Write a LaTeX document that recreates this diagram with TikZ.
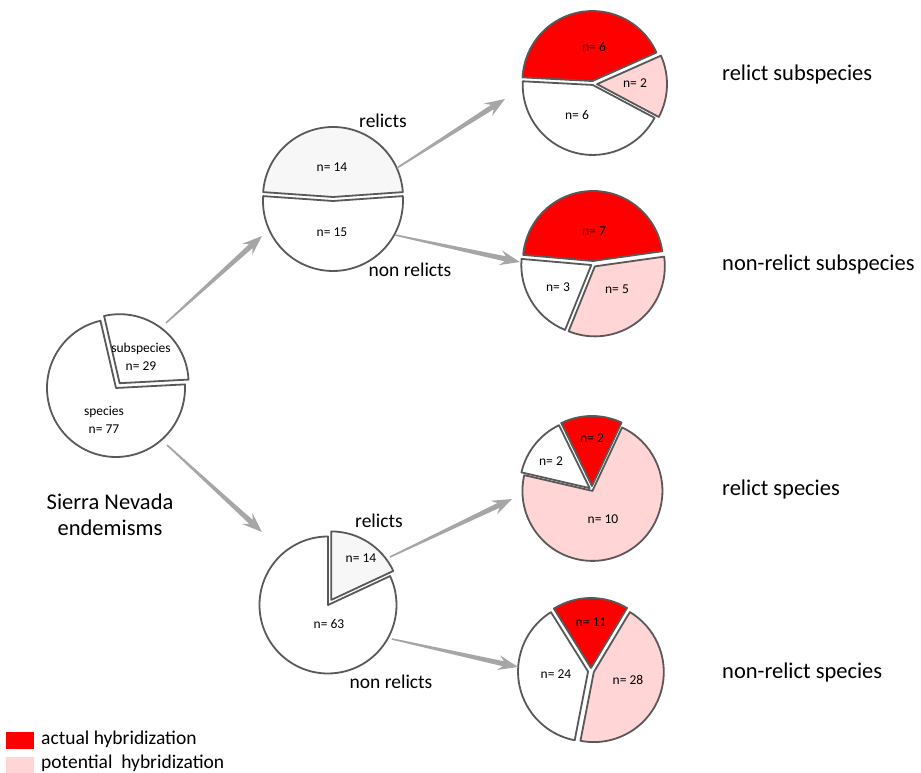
\documentclass[tikz,border=0pt]{standalone}
\usepackage{fontspec}
\setmainfont{Carlito}
\usetikzlibrary{calc}

\definecolor{actual}{HTML}{FF0000}
\definecolor{potential}{HTML}{FFD5D5}
\definecolor{relictfill}{HTML}{F7F7F7}
\definecolor{rim}{HTML}{595959}
\definecolor{arrowgray}{HTML}{A6A6A6}

% one exploded slice: center, start angle, end angle, radius, shift, fill
\newcommand{\pieslice}[6]{%
  \filldraw[pieline, fill=#6] ($(#1)+({(#2+#3)/2}:#5)$) -- ++(#2:#4)
    arc[start angle=#2, end angle=#3, radius=#4] -- cycle;}

% tapered gray arrow from #1 to #2
\newcommand{\taperarrow}[2]{%
  \path ($(#2)!20pt!(#1)$) coordinate (neck) ($(#2)!15pt!(#1)$) coordinate (notch);
  \fill[arrowgray] ($(#1)!0.8pt!90:(#2)$) -- ($(notch)!2.6pt!90:(#2)$)
    -- ($(neck)!7.5pt!90:(#2)$) -- (#2) -- ($(neck)!7.5pt!-90:(#2)$)
    -- ($(notch)!2.6pt!-90:(#2)$) -- ($(#1)!0.8pt!-90:(#2)$) -- cycle;}

\tikzset{
  pieline/.style={draw=rim, line width=1.8pt, line join=round},
  count/.style={font=\fontsize{13.5}{18}\selectfont, align=center},
  branch/.style={font=\fontsize{19.5}{24}\selectfont},
  group/.style={font=\fontsize{22.5}{27}\selectfont, anchor=west, inner sep=0pt},
  legend/.style={font=\fontsize{19.5}{22}\selectfont, anchor=west, inner sep=0pt}
}

\begin{document}
\begin{tikzpicture}[x=1pt, y=1pt]
  \useasboundingbox (0,0) rectangle (921,773);

  % pie centres
  \coordinate (endem) at (116,385);
  \coordinate (sub) at (333,574);
  \coordinate (spec) at (328,168);
  \coordinate (relsub) at (593,689);
  \coordinate (nonsub) at (593,509);
  \coordinate (relspec) at (592,283);
  \coordinate (nonspec) at (591,102);

  % all endemisms
  \pieslice{endem}{103}{363}{69}{0}{white}
  \pieslice{endem}{3}{103}{69}{6}{white}
  \node[count] (endem-sub) at (141,416) {subspecies\\n= 29};
  \node[count] (endem-spec) at (104,353) {species\\n= 77};
  \node[align=center, font=\fontsize{22.5}{26}\selectfont]
    (title) at (110,258) {Sierra Nevada\\endemisms};

  % subspecies
  \pieslice{sub}{4}{176}{70}{2}{relictfill}
  \pieslice{sub}{176}{364}{70}{2}{white}
  \node[count] (sub-rel) at (332,606) {n= 14};
  \node[count] (sub-non) at (332,541) {n= 15};
  \node[branch] (sub-rel-lab) at (383,652) {relicts};
  \node[branch] (sub-non-lab) at (410,503) {non relicts};

  % species
  \pieslice{spec}{90}{385}{68.5}{0}{white}
  \pieslice{spec}{25}{90}{68.5}{6}{relictfill}
  \node[count] (spec-rel) at (361,215) {n= 14};
  \node[count] (spec-non) at (329,149) {n= 63};
  \node[branch] (spec-rel-lab) at (379,252) {relicts};
  \node[branch] (spec-non-lab) at (391,91) {non relicts};

  % relict subspecies
  \pieslice{relsub}{24}{177}{70}{3}{actual}
  \pieslice{relsub}{-28}{24}{70}{4}{potential}
  \pieslice{relsub}{177}{332}{70}{1}{white}
  \node[count] (relsub-a) at (594,726) {n= 6};
  \node[count] (relsub-p) at (635,690) {n= 2};
  \node[count] (relsub-n) at (577,658) {n= 6};
  \node[group] (relsub-lab) at (722,698) {relict subspecies};

  % non-relict subspecies
  \pieslice{nonsub}{8}{175}{70}{3}{actual}
  \pieslice{nonsub}{-112}{8}{70}{3}{potential}
  \pieslice{nonsub}{175}{248}{70}{2}{white}
  \node[count] (nonsub-a) at (594,542) {n= 7};
  \node[count] (nonsub-n) at (558,486) {n= 3};
  \node[count] (nonsub-p) at (617,484) {n= 5};
  \node[group] (nonsub-lab) at (722,508) {non-relict subspecies};

  % relict species
  \pieslice{relspec}{65}{116}{70}{4}{actual}
  \pieslice{relspec}{116}{167}{70}{3}{white}
  \pieslice{relspec}{167}{425}{70}{1}{potential}
  \node[count] (relspec-a) at (592,335) {n= 2};
  \node[count] (relspec-n) at (551,312) {n= 2};
  \node[count] (relspec-p) at (603,254) {n= 10};
  \node[group] (relspec-lab) at (722,283) {relict species};

  % non-relict species
  \pieslice{nonspec}{59}{122}{70}{3}{actual}
  \pieslice{nonspec}{-101}{59}{70}{3}{potential}
  \pieslice{nonspec}{122}{259}{70}{3}{white}
  \node[count] (nonspec-a) at (591,151) {n= 11};
  \node[count] (nonspec-n) at (556,99) {n= 24};
  \node[count] (nonspec-p) at (628,93) {n= 28};
  \node[group] (nonspec-lab) at (722,100) {non-relict species};

  % arrow ends
  \coordinate (a1) at (166,450); \coordinate (b1) at (262,537);
  \coordinate (a2) at (167,328); \coordinate (b2) at (262,241);
  \coordinate (a3) at (397,605); \coordinate (b3) at (505,674);
  \coordinate (a4) at (395,538); \coordinate (b4) at (520,511);
  \coordinate (a5) at (390,216); \coordinate (b5) at (512,274);
  \coordinate (a6) at (392,134); \coordinate (b6) at (518,106);
  \foreach \i in {1,...,6} {\taperarrow{a\i}{b\i}}

  % legend
  \fill[actual] (6,24) rectangle (34,41);
  \fill[potential] (6,0) rectangle (34,16);
  \node[legend] (leg-a) at (41,34) {actual hybridization};
  \node[legend] (leg-p) at (41,10) {potential\ \ hybridization};
\end{tikzpicture}
\end{document}
